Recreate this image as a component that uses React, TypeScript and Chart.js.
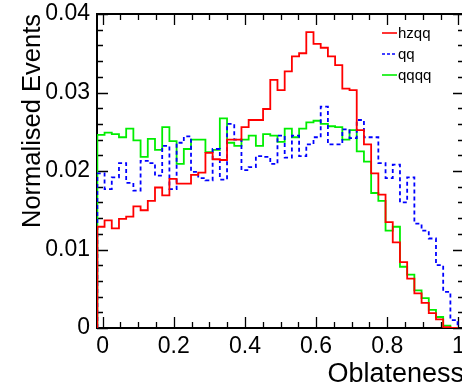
import React, { useEffect, useRef } from 'react';
import { Chart, registerables } from 'chart.js';

Chart.register(...registerables);

// Histogram binning (50 bins)
const BIN_LOW = -0.015;
const BIN_HIGH = 0.998;

// Normalised event fractions per bin
const hzqq = [
  0.0129, 0.0137, 0.0127, 0.0139, 0.0142, 0.0155, 0.015, 0.0162, 0.0179, 0.0169,
  0.019, 0.0184, 0.0184, 0.0195, 0.0198, 0.0223, 0.0215, 0.0214, 0.024, 0.024,
  0.0256, 0.0265, 0.0265, 0.0279, 0.0316, 0.0303, 0.0327, 0.0346, 0.035, 0.0377,
  0.0362, 0.0357, 0.0346, 0.0335, 0.0305, 0.0303, 0.0252, 0.0234, 0.0197, 0.017,
  0.0135, 0.0109, 0.0084, 0.0063, 0.0044, 0.0032, 0.0019, 0.0011, 0.0001, 0,
];
const qq = [
  0.0197, 0.0177, 0.0192, 0.021, 0.0185, 0.0175, 0.0213, 0.021, 0.0194, 0.0232,
  0.0177, 0.0236, 0.0244, 0.0199, 0.0191, 0.0188, 0.0228, 0.0189, 0.026, 0.024,
  0.0201, 0.0205, 0.0219, 0.0218, 0.0209, 0.0245, 0.0217, 0.0245, 0.0219, 0.0234,
  0.0243, 0.0282, 0.0234, 0.0234, 0.0253, 0.0242, 0.0265, 0.0243, 0.0243, 0.021,
  0.0191, 0.0208, 0.016, 0.0192, 0.0133, 0.0124, 0.0114, 0.008, 0.0046, 0.001,
];
const qqqq = [
  0.0246, 0.0249, 0.0247, 0.0243, 0.0254, 0.0239, 0.0218, 0.0241, 0.0227, 0.0256,
  0.0238, 0.0209, 0.0228, 0.024, 0.024, 0.0224, 0.0227, 0.0267, 0.0236, 0.0232,
  0.024, 0.0245, 0.0232, 0.0247, 0.0245, 0.0237, 0.0254, 0.0243, 0.0254, 0.0262,
  0.0264, 0.026, 0.0257, 0.0256, 0.024, 0.0252, 0.0225, 0.0212, 0.0172, 0.0162,
  0.0124, 0.0129, 0.0078, 0.0068, 0.0048, 0.0038, 0.0023, 0.0014, 0.0003, 0,
];

const X_TICKS = [0, 0.2, 0.4, 0.6, 0.8, 1];
const Y_TICKS = [0, 0.01, 0.02, 0.03, 0.04];
const X_SUBDIV = 4;
const Y_SUBDIV = 5;

const FONT = '"Liberation Sans", Arial, Helvetica, sans-serif';

// Turn bin contents into step-line vertices: one point per bin's lower edge,
// closed down to zero at both ends of the range.
function histPoints(values: number[]) {
  const w = (BIN_HIGH - BIN_LOW) / values.length;
  const pts = [{ x: BIN_LOW, y: 0 }];
  values.forEach((v, i) => pts.push({ x: BIN_LOW + i * w, y: v }));
  pts.push({ x: BIN_HIGH, y: 0 });
  return pts;
}

const fmt = (v: number) => String(Number(Number(v).toFixed(3)));

// Closed frame with inward tick marks on all four sides, plus the legend.
const rootFrame = {
  id: 'rootFrame',
  beforeDatasetsDraw(chart: any) {
    const { ctx, chartArea } = chart;
    const { left, right, top, bottom } = chartArea;
    const xs = chart.scales.x;
    const ys = chart.scales.y;
    ctx.save();
    ctx.strokeStyle = '#000';
    ctx.lineWidth = 1.3;
    ctx.beginPath();
    for (let i = 0; i < X_TICKS.length; i++) {
      const next = i + 1 < X_TICKS.length ? X_TICKS[i + 1] : X_TICKS[i];
      const subs = i + 1 < X_TICKS.length ? X_SUBDIV : 1;
      for (let j = 0; j < subs; j++) {
        const v = X_TICKS[i] + ((next - X_TICKS[i]) * j) / X_SUBDIV;
        const px = Math.round(xs.getPixelForValue(v)) + 0.5;
        const len = j === 0 ? 11 : 6;
        ctx.moveTo(px, bottom);
        ctx.lineTo(px, bottom - len);
        ctx.moveTo(px, top);
        ctx.lineTo(px, top + len);
      }
    }
    for (let i = 0; i < Y_TICKS.length; i++) {
      const next = i + 1 < Y_TICKS.length ? Y_TICKS[i + 1] : Y_TICKS[i];
      const subs = i + 1 < Y_TICKS.length ? Y_SUBDIV : 1;
      for (let j = 0; j < subs; j++) {
        const v = Y_TICKS[i] + ((next - Y_TICKS[i]) * j) / Y_SUBDIV;
        const py = Math.round(ys.getPixelForValue(v)) + 0.5;
        const len = j === 0 ? 11 : 6;
        ctx.moveTo(left, py);
        ctx.lineTo(left + len, py);
        ctx.moveTo(right, py);
        ctx.lineTo(right - len, py);
      }
    }
    ctx.stroke();
    ctx.lineWidth = 2;
    ctx.strokeRect(left, top, right - left, bottom - top);
    ctx.restore();
  },
  afterDatasetsDraw(chart: any) {
    const { ctx } = chart;
    ctx.save();
    ctx.font = `15px ${FONT}`;
    ctx.textBaseline = 'middle';
    ctx.textAlign = 'left';
    chart.data.datasets.forEach((ds: any, i: number) => {
      const y = 33 + i * 21;
      ctx.strokeStyle = ds.borderColor;
      ctx.lineWidth = 1.6;
      ctx.setLineDash(ds.borderDash ? [3, 2] : []);
      ctx.beginPath();
      ctx.moveTo(382, y);
      ctx.lineTo(397, y);
      ctx.stroke();
      ctx.setLineDash([]);
      ctx.fillStyle = '#000';
      ctx.fillText(ds.label, 398, y + 1);
    });
    ctx.restore();
  },
};

export default function App() {
  const ref = useRef<HTMLCanvasElement>(null);

  useEffect(() => {
    if (!ref.current) return;
    const common = {
      borderWidth: 1.8,
      stepped: 'before' as const,
      pointRadius: 0,
      fill: false,
      tension: 0,
    };
    const chart = new Chart(ref.current, {
      type: 'line',
      data: {
        datasets: [
          { ...common, label: 'hzqq', data: histPoints(hzqq), borderColor: '#ff0000' },
          { ...common, label: 'qq', data: histPoints(qq), borderColor: '#0000ff', borderDash: [4, 3] },
          { ...common, label: 'qqqq', data: histPoints(qqqq), borderColor: '#00ee00' },
        ],
      },
      options: {
        animation: false,
        responsive: false,
        devicePixelRatio: 1,
        events: [],
        layout: { padding: { top: 14, right: 2, left: 0, bottom: 0 } },
        plugins: { legend: { display: false }, tooltip: { enabled: false } },
        scales: {
          x: {
            type: 'linear',
            min: -0.016,
            max: 1.016,
            grid: { display: false, drawTicks: false },
            border: { display: false },
            afterBuildTicks: (s: any) => {
              s.ticks = X_TICKS.map((v) => ({ value: v }));
            },
            afterFit: (s: any) => {
              s.height = 57;
              s.paddingLeft = 0;
              s.paddingRight = 0;
            },
            ticks: {
              color: '#000',
              font: { family: FONT, size: 23 },
              padding: 5,
              maxRotation: 0,
              autoSkip: false,
              callback: (v: any) => fmt(v),
            },
            title: {
              display: true,
              text: 'Oblateness',
              align: 'end',
              color: '#000',
              font: { family: FONT, size: 27, lineHeight: 0.8 },
              padding: 0,
            },
          },
          y: {
            type: 'linear',
            min: 0,
            max: 0.04,
            grid: { display: false, drawTicks: false },
            border: { display: false },
            afterBuildTicks: (s: any) => {
              s.ticks = Y_TICKS.map((v) => ({ value: v }));
            },
            afterFit: (s: any) => {
              s.width = 97;
              s.paddingTop = 0;
              s.paddingBottom = 0;
            },
            ticks: {
              color: '#000',
              font: { family: FONT, size: 23 },
              padding: 7,
              callback: (v: any) => fmt(v),
            },
            title: {
              display: true,
              text: 'Normalised Events',
              align: 'end',
              color: '#000',
              font: { family: FONT, size: 25.5, lineHeight: 1.2 },
              padding: { top: 18, bottom: 0 },
            },
          },
        },
      },
      plugins: [rootFrame],
    });
    return () => chart.destroy();
  }, []);

  return (
    <div
      style={{
        position: 'fixed',
        left: 0,
        top: 0,
        width: 462,
        height: 385,
        overflow: 'hidden',
        background: '#fff',
      }}
    >
      <canvas ref={ref} width={466} height={385} style={{ display: 'block', width: 466, height: 385 }} />
    </div>
  );
}
